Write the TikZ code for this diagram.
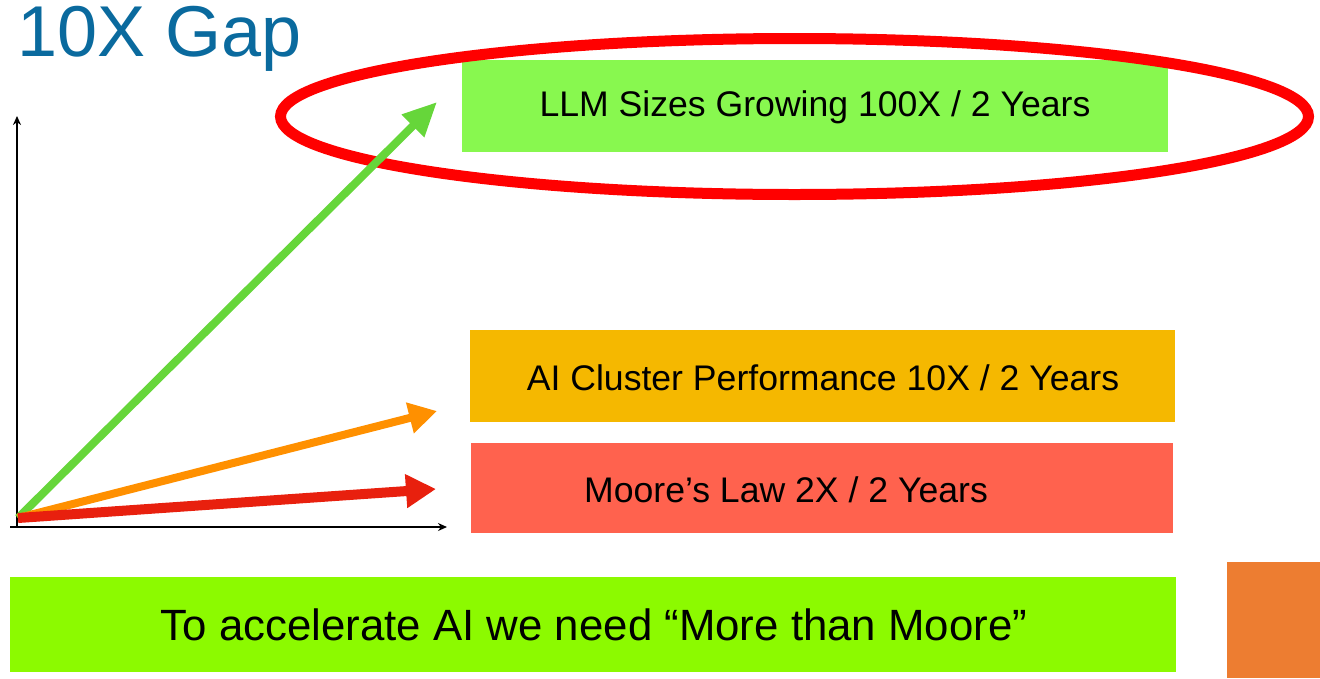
\documentclass[tikz,border=0pt]{standalone}
\usepackage{fontspec}
\setmainfont{Liberation Sans}
\usetikzlibrary{arrows.meta}
\definecolor{titleblue}{HTML}{0A6A9E}
\definecolor{llmgreen}{HTML}{88F84F}
\definecolor{aiorange}{HTML}{F5B800}
\definecolor{moorered}{HTML}{FF624E}
\definecolor{bottomgreen}{HTML}{8CFA00}
\definecolor{sqorange}{HTML}{ED7D31}
\definecolor{arrgreen}{HTML}{66D63A}
\definecolor{arrorange}{HTML}{FF9000}
\definecolor{arrred}{HTML}{E8200E}
\definecolor{ellred}{HTML}{FF0000}
\tikzset{
  box/.style={inner sep=0pt, outer sep=0pt, draw=none},
  lbl/.style={inner sep=0pt, font=\fontsize{35.6}{40}\selectfont, text=black},
  axis/.style={line width=2pt, -{Stealth[length=9pt,width=8pt]}},
  growth/.style={line width=#1, line cap=butt},
}
\begin{document}
\begin{tikzpicture}[x=1pt,y=-1pt]
\useasboundingbox (0,0) rectangle (1320,678);
% title
\node[anchor=base west, inner sep=0pt, text=titleblue, font=\fontsize{72}{82}\selectfont] (title) at (17,56) {10X Gap};
% boxes
\fill[llmgreen] (462,60) rectangle (1168,152);
\node[lbl] (llm) at (815,107) {LLM Sizes Growing 100X / 2 Years};
\fill[aiorange] (470,330) rectangle (1175,422);
\node[lbl] (ai) at (823,378) {AI Cluster Performance 10X / 2 Years};
\fill[moorered] (471,443) rectangle (1173,533);
\node[lbl] (moore) at (786,490) {Moore’s Law 2X / 2 Years};
\fill[bottomgreen] (10,577) rectangle (1176,672);
\node[lbl, font=\fontsize{43.8}{50}\selectfont] (bottom) at (594,625) {To accelerate AI we need “More than Moore”};
\fill[sqorange] (1227,562) rectangle (1320,678);
% ellipse
\draw[ellred, line width=11pt] (794.5,116.5) ellipse [x radius=514, y radius=78];
% axes
\coordinate (o) at (17,527);
\coordinate (ytip) at (17,116);
\coordinate (xtip) at (447,527);
\coordinate (xstart) at (10,527);
\draw[axis] (o) -- (ytip);
\draw[axis] (xstart) -- (xtip);
% growth arrows
\coordinate (org) at (18,518);
\coordinate (gtip) at (437,102);
\coordinate (otip) at (437,411);
\coordinate (rtip) at (436,489);
\draw[arrgreen, growth=8pt, -{Triangle[length=34pt,width=30pt]}] (org) -- (gtip);
\draw[arrorange, growth=8pt, -{Triangle[length=28pt,width=30pt]}] (org) -- (otip);
\draw[arrred, growth=10pt, -{Triangle[length=30pt,width=32pt]}] (org) -- (rtip);
\end{tikzpicture}
\end{document}
